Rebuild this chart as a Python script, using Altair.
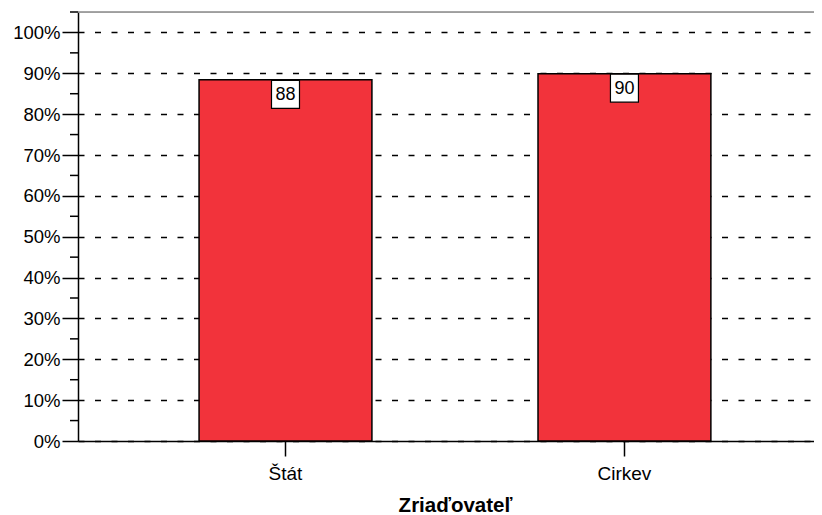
import altair as alt
import pandas as pd

categories = ["Štát", "Cirkev"]
values = [88.4, 89.9]
labels = ["88", "90"]
major_ticks = [0, 10, 20, 30, 40, 50, 60, 70, 80, 90, 100]
minor_ticks = [5, 15, 25, 35, 45, 55, 65, 75, 85, 95, 105]

df = pd.DataFrame({"cat": categories, "val": values, "lab": labels})
minor_df = pd.DataFrame({"t": minor_ticks})
top_df = pd.DataFrame({"t": [105]})

FONT = "Liberation Sans"
W, H = 736, 429

yscale = alt.Scale(domain=[0, 105], nice=False, zero=True)
xscale = alt.Scale(paddingInner=0.49, paddingOuter=0.3307, align=0.54)

x_enc = alt.X("cat:N", sort=categories, scale=xscale,
              axis=alt.Axis(title="Zriaďovateľ", labelAngle=0, tickSize=15,
                            labelPadding=8, labelFontSize=19, labelFont=FONT,
                            labelColor="black", titleFont=FONT, titleFontSize=20.5,
                            titleFontWeight="bold", titleColor="black",
                            titleX=377, titleAlign="center",
                            titlePadding=12, domainColor="black", domainWidth=1.5,
                            tickColor="black", tickWidth=1.5, grid=False))

y_enc = alt.Y("val:Q", scale=yscale,
              axis=alt.Axis(title=None, values=major_ticks,
                            labelExpr="datum.value + '%'", tickSize=16,
                            labelPadding=2, labelFontSize=18.5, labelFont=FONT,
                            labelColor="black", domainColor="black", domainWidth=1.5,
                            tickColor="black", tickWidth=1.5, grid=True,
                            gridColor="black", gridDash=[6, 10.5], gridWidth=1.4))

bars = alt.Chart(df).mark_bar(color="#F2333B", stroke="black", strokeWidth=1.5).encode(
    x=x_enc, y=y_enc)

boxes = alt.Chart(df).mark_point(shape="square", size=784, filled=True, fill="white",
                                 stroke="black", strokeWidth=1.2, opacity=1,
                                 yOffset=14.5).encode(
    x=alt.X("cat:N", sort=categories, scale=xscale),
    y=alt.Y("val:Q", scale=yscale))

texts = alt.Chart(df).mark_text(font=FONT, fontSize=18, color="black",
                                yOffset=15, baseline="middle").encode(
    x=alt.X("cat:N", sort=categories, scale=xscale),
    y=alt.Y("val:Q", scale=yscale),
    text="lab:N")

minor = alt.Chart(minor_df).mark_rule(color="black", strokeWidth=1.5).encode(
    y=alt.Y("t:Q", scale=yscale),
    x=alt.value(-8), x2=alt.value(0))

top_border = alt.Chart(top_df).mark_rule(color="#888888", strokeWidth=1.5).encode(
    y=alt.Y("t:Q", scale=yscale),
    x=alt.value(0), x2=alt.value(W))

chart = alt.layer(bars, boxes, texts, minor, top_border).properties(
    width=W, height=H,
    autosize=alt.AutoSizeParams(type="none"),
    padding={"left": 70, "top": 4, "right": 0, "bottom": 74},
).configure_view(fill="#EFEFEF", stroke="transparent"
).configure(background="white")

chart.save("out.html", embed_options={"renderer": "svg", "actions": False})
